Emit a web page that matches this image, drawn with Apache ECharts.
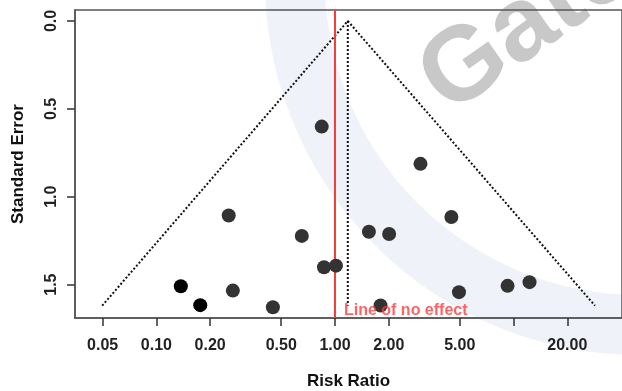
<!DOCTYPE html>
<html>
<head>
<meta charset="utf-8">
<script src="https://cdn.jsdelivr.net/npm/echarts@6/dist/echarts.min.js"></script>
<style>html,body{margin:0;padding:0;background:#fff}#c{width:622px;height:391px}</style>
</head>
<body>
<div id="c"></div>
<script>
// ---- data ----
var greyRR = [0.254, 0.652, 0.843, 0.868, 1.013, 0.268, 0.449, 1.549, 2.011, 3.012, 4.487, 4.948, 1.80, 9.26, 12.29];
var greySE = [1.107, 1.223, 0.601, 1.401, 1.392, 1.534, 1.629, 1.199, 1.212, 0.813, 1.115, 1.543, 1.619, 1.507, 1.486];
var blackRR = [0.137, 0.176];
var blackSE = [1.509, 1.617];
var pooledRR = 1.18;
var funnelRR = [0.0497, 1.18, 28.6];
var funnelSE = [1.62, 0, 1.62];
var noEffectRR = 1.0;
var xTicks = [0.05, 0.1, 0.2, 0.5, 1, 2, 5, 10, 20];
var xTickLabels = [0.05, 0.1, 0.2, 0.5, 1, 2, 5, 20];
var yTicks = [0, 0.5, 1.0, 1.5];
var xRange = [0.035, 40.5];
var seRange = [-0.0625, 1.69];

// Standard error grows downward: the y axis shows SE on a flipped (negated) value scale.
function flip(se) { return -se; }
function pairs(a, b) { return a.map(function (v, i) { return [v, flip(b[i])]; }); }

var chart = echarts.init(document.getElementById('c'), null, {renderer: 'canvas'});
var font = 'Liberation Sans, Arial, Helvetica, sans-serif';
var axisCol = '#555';
chart.setOption({
  animation: false,
  backgroundColor: '#fff',
  graphic: [
    {type: 'arc', z: -10, silent: true, shape: {cx: 640, cy: -20, r: 345, startAngle: 0, endAngle: Math.PI * 2},
     style: {fill: null, stroke: '#f0f2f9', lineWidth: 60}},
    {type: 'text', z: -5, silent: true, x: 462, y: 135, rotation: Math.PI / 180 * 35,
     style: {text: 'Gateway', fill: '#c8c8c8', font: 'bold 105px ' + font, textAlign: 'left', textVerticalAlign: 'bottom'}}
  ],
  grid: {left: 75, top: 10, right: 0, bottom: 73, outerBoundsMode: 'none', containLabel: false,
         show: true, borderColor: axisCol, borderWidth: 1.5},
  xAxis: {
    type: 'log', logBase: 10, min: xRange[0], max: xRange[1],
    name: 'Risk Ratio', nameLocation: 'middle', nameGap: 55,
    nameTextStyle: {fontFamily: font, fontWeight: 'bold', fontSize: 17, color: '#111'},
    axisLine: {show: true, onZero: false, lineStyle: {color: axisCol, width: 1.5}},
    axisTick: {show: true, inside: true, length: -8, lineStyle: {color: '#333', width: 1.5}, customValues: xTicks},
    axisLabel: {show: true, margin: 20, fontFamily: font, fontWeight: 'bold', fontSize: 16, color: '#222',
      customValues: xTickLabels, formatter: function (v) { return Number(v).toFixed(2); }},
    splitLine: {show: false}
  },
  yAxis: {
    type: 'value', min: flip(seRange[1]), max: flip(seRange[0]),
    name: 'Standard Error', nameLocation: 'middle', nameGap: 48, nameRotate: 90,
    nameTextStyle: {fontFamily: font, fontWeight: 'bold', fontSize: 17, color: '#111'},
    axisLine: {show: true, onZero: false, lineStyle: {color: axisCol, width: 1.5}},
    axisTick: {show: true, inside: true, length: -8, lineStyle: {color: '#333', width: 1.5}, customValues: yTicks.map(flip)},
    axisLabel: {show: true, rotate: 90, margin: 15, fontFamily: font, fontWeight: 'bold', fontSize: 16, color: '#222',
      customValues: yTicks.map(flip), formatter: function (v) { return Math.abs(Number(v)).toFixed(1); }},
    splitLine: {show: false}
  },
  series: [
    {type: 'line', z: 3, symbol: 'none', data: pairs(funnelRR, funnelSE),
     lineStyle: {color: '#111', width: 2, type: [2, 2]}},
    {type: 'line', z: 3, symbol: 'none', data: pairs([pooledRR, pooledRR], [funnelSE[1], funnelSE[0]]),
     lineStyle: {color: '#111', width: 2, type: [2, 2]}},
    {type: 'line', z: 4, symbol: 'none', data: pairs([noEffectRR, noEffectRR], seRange),
     lineStyle: {color: '#f03c3c', width: 2}},
    {type: 'scatter', z: 5, symbolSize: 14, data: pairs(greyRR, greySE), itemStyle: {color: '#333', opacity: 1}},
    {type: 'scatter', z: 5, symbolSize: 14, data: pairs(blackRR, blackSE), itemStyle: {color: '#000', opacity: 1}},
    {type: 'scatter', z: 6, symbolSize: 0, data: pairs([noEffectRR], [1.65]),
     label: {show: true, position: 'right', distance: 9, formatter: 'Line of no effect',
       fontFamily: font, fontSize: 16, fontWeight: 'bold', color: '#ff3b3b'}}
  ]
});
</script>
</body>
</html>
